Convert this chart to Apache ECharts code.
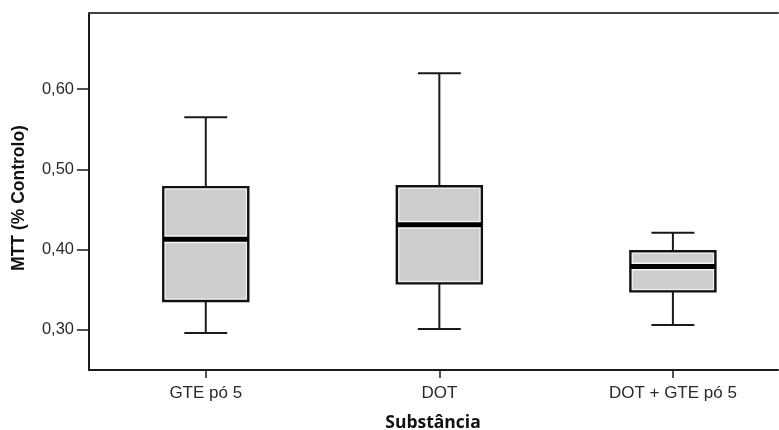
<!DOCTYPE html>
<html>
<head>
<meta charset="utf-8">
<script src="https://cdn.jsdelivr.net/npm/echarts@6/dist/echarts.min.js"></script>
<style>
  html, body { margin: 0; padding: 0; background: #fff; }
  #chart { width: 779px; height: 430px; }
</style>
</head>
<body>
<div id="chart"></div>
<script>
// MTT viability per substance: five-number summaries for each group
const categories = ['GTE pó 5', 'DOT', 'DOT + GTE pó 5'];
const whiskerLow  = [0.296, 0.301, 0.306];
const quartile1   = [0.336, 0.358, 0.348];
const medians     = [0.413, 0.431, 0.379];
const quartile3   = [0.478, 0.479, 0.398];
const whiskerHigh = [0.565, 0.620, 0.421];
const yTickValues = [0.30, 0.40, 0.50, 0.60];
const xTickValues = categories.map((c, i) => i);

const boxData = categories.map((c, i) => [i, whiskerLow[i], quartile1[i], medians[i], quartile3[i], whiskerHigh[i]]);

function renderBox(params, api) {
  const idx = api.value(0);
  const unit = api.size([1, 0])[0];
  const boxHalf = unit * 0.182;
  const capHalf = unit * 0.092;
  const pLow = api.coord([idx, api.value(1)]);
  const pQ1 = api.coord([idx, api.value(2)]);
  const pMed = api.coord([idx, api.value(3)]);
  const pQ3 = api.coord([idx, api.value(4)]);
  const pHigh = api.coord([idx, api.value(5)]);
  const cx = pMed[0];
  const lineStyle = { stroke: '#1a1a1a', lineWidth: 2 };
  return {
    type: 'group',
    children: [
      // whiskers and caps
      { type: 'line', shape: { x1: cx, y1: pHigh[1], x2: cx, y2: pQ3[1] }, style: lineStyle },
      { type: 'line', shape: { x1: cx, y1: pQ1[1], x2: cx, y2: pLow[1] }, style: lineStyle },
      { type: 'line', shape: { x1: cx - capHalf, y1: pHigh[1], x2: cx + capHalf, y2: pHigh[1] }, style: lineStyle },
      { type: 'line', shape: { x1: cx - capHalf, y1: pLow[1], x2: cx + capHalf, y2: pLow[1] }, style: lineStyle },
      // interquartile box
      { type: 'rect', shape: { x: cx - boxHalf, y: pQ3[1], width: boxHalf * 2, height: pQ1[1] - pQ3[1] },
        style: { fill: '#cdcdcd', stroke: '#111', lineWidth: 2.4 } },
      { type: 'rect', shape: { x: cx - boxHalf + 2, y: pQ3[1] + 2, width: boxHalf * 2 - 4, height: pQ1[1] - pQ3[1] - 4 },
        style: { fill: 'none', stroke: '#f4f4f4', lineWidth: 1 } },
      // median
      { type: 'rect', shape: { x: cx - boxHalf + 1.5, y: pMed[1] - 4, width: boxHalf * 2 - 3, height: 8 },
        style: { fill: '#f4f4f4' } },
      { type: 'line', shape: { x1: cx - boxHalf, y1: pMed[1], x2: cx + boxHalf, y2: pMed[1] },
        style: { stroke: '#000', lineWidth: 5 } }
    ]
  };
}

const chart = echarts.init(document.getElementById('chart'), null, { renderer: 'canvas' });
chart.setOption({
  animation: false,
  backgroundColor: '#fff',
  grid: { left: 89, top: 13, right: 1, height: 357, show: false },
  xAxis: [{
    type: 'value',
    min: -0.5,
    max: 2.45,
    position: 'bottom',
    axisLine: { show: true, onZero: false, lineStyle: { color: '#1a1a1a', width: 2 } },
    axisTick: { show: true, customValues: xTickValues, length: 8, lineStyle: { color: '#1a1a1a', width: 1.5 } },
    axisLabel: {
      customValues: xTickValues,
      margin: 15,
      color: '#2a2a2a',
      fontFamily: 'Liberation Sans, Arial, sans-serif',
      fontSize: 17,
      formatter: v => categories[v]
    },
    splitLine: { show: false }
  }, {
    type: 'value',
    min: -0.5,
    max: 2.45,
    position: 'top',
    axisLine: { show: true, onZero: false, lineStyle: { color: '#404040', width: 2 } },
    axisTick: { show: false },
    axisLabel: { show: false },
    splitLine: { show: false }
  }],
  yAxis: {
    type: 'value',
    min: 0.25,
    max: 0.695,
    axisLine: { show: true, onZero: false, lineStyle: { color: '#1a1a1a', width: 2 } },
    axisTick: { show: true, length: 12, customValues: yTickValues, lineStyle: { color: '#1a1a1a', width: 1.5 } },
    axisLabel: {
      customValues: yTickValues,
      margin: 15,
      color: '#2a2a2a',
      fontFamily: 'Liberation Sans, Arial, sans-serif',
      fontSize: 16.5,
      formatter: v => v.toFixed(2).replace('.', ',')
    },
    splitLine: { show: false }
  },
  graphic: [
    { type: 'text', x: 19, y: 198, rotation: Math.PI / 2,
      style: { text: 'MTT (% Controlo)', font: 'bold 17.5px "Liberation Sans", Arial, sans-serif', fill: '#111', align: 'center', verticalAlign: 'middle' } },
    { type: 'text', x: 433, y: 423,
      style: { text: 'Substância', font: 'bold 17.5px "Open Sans", sans-serif', fill: '#111', align: 'center', verticalAlign: 'middle' } }
  ],
  series: [{
    type: 'custom',
    xAxisIndex: 0,
    renderItem: renderBox,
    encode: { x: 0, y: [1, 2, 3, 4, 5] },
    data: boxData,
    clip: false
  }]
});
</script>
</body>
</html>
